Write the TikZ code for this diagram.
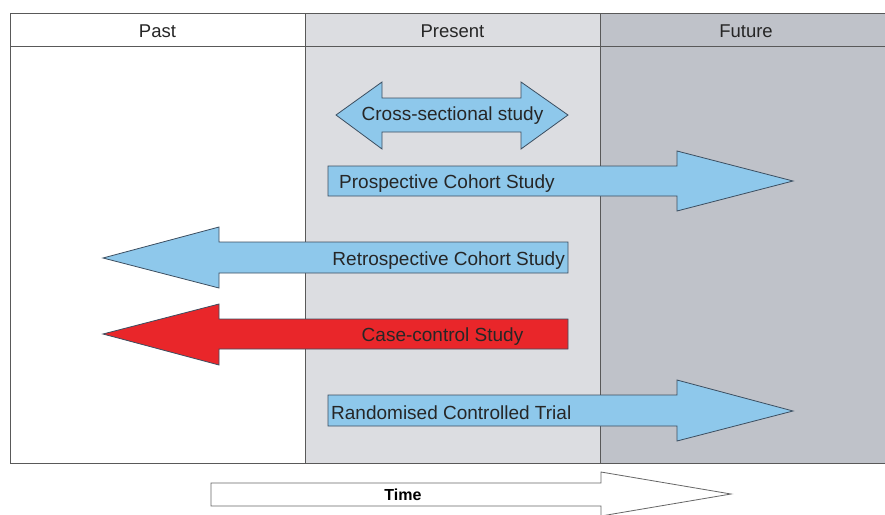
\documentclass[tikz,border=0pt]{standalone}
\usepackage{fontspec}
\setmainfont{Liberation Sans}
\begin{document}
\begin{tikzpicture}[x=1pt,y=-1pt,
  grid/.style={draw=black!65,line width=0.9pt},
  blue arrow/.style={fill=arrowblue,draw=outline,line width=0.8pt,line join=miter},
  red arrow/.style={fill=arrowred,draw=outline,line width=0.8pt,line join=miter},
  time arrow/.style={fill=white,draw=black!60,line width=0.8pt},
  lbl/.style={font=\fontsize{19}{22}\selectfont,text=black!85,inner sep=0pt},
  head/.style={font=\fontsize{18.5}{22}\selectfont,text=black!85,inner sep=0pt}]
\definecolor{arrowblue}{RGB}{142,200,235}
\definecolor{arrowred}{RGB}{233,38,42}
\definecolor{outline}{RGB}{60,78,96}
\definecolor{presentgray}{RGB}{220,221,225}
\definecolor{futuregray}{RGB}{191,194,201}
\useasboundingbox (0,0) rectangle (885,514);
% columns
\fill[presentgray] (305,13) rectangle (600,463);
\fill[futuregray] (600,13) rectangle (885,463);
\draw[grid] (10,13) rectangle (885,463);
\draw[grid] (10,46) -- (885,46);
\draw[grid] (305,13) -- (305,463);
\draw[grid] (600,13) -- (600,463);
\node[head] (past) at (157.5,31) {Past};
\node[head] (present) at (452.5,31) {Present};
\node[head] (future) at (746,31) {Future};
% cross-sectional study (double arrow)
\draw[blue arrow] (336,115) -- (382,82) -- (382,98) -- (521,98) -- (521,82)
  -- (568,115) -- (521,149) -- (521,132) -- (382,132) -- (382,149) -- cycle;
\node[lbl] (cross) at (452.5,115.5) {Cross-sectional study};
% prospective cohort study
\draw[blue arrow] (328,166) -- (677,166) -- (677,151) -- (793,181)
  -- (677,211) -- (677,196) -- (328,196) -- cycle;
\node[lbl,anchor=west] (prosp) at (339,183.5) {Prospective Cohort Study};
% retrospective cohort study
\draw[blue arrow] (568,242) -- (219,242) -- (219,227) -- (103,258)
  -- (219,288) -- (219,273) -- (568,273) -- cycle;
\node[lbl,anchor=east] (retro) at (565,260.5) {Retrospective Cohort Study};
% case-control study
\draw[red arrow] (568,319) -- (219,319) -- (219,304) -- (103,334)
  -- (219,365) -- (219,349) -- (568,349) -- cycle;
\node[lbl] (case) at (442.5,336.5) {Case-control Study};
% randomised controlled trial
\draw[blue arrow] (328,395) -- (677,395) -- (677,380) -- (793,411)
  -- (677,441) -- (677,426) -- (328,426) -- cycle;
\node[lbl,anchor=west] (rct) at (331,412.5) {Randomised Controlled Trial};
% time axis
\draw[time arrow] (211,483) -- (601,483) -- (601,472) -- (731,494)
  -- (601,516) -- (601,506) -- (211,506) -- cycle;
\node[font=\bfseries\fontsize{16}{19}\selectfont,inner sep=0pt] (time) at (403,495) {Time};
\end{tikzpicture}
\end{document}
